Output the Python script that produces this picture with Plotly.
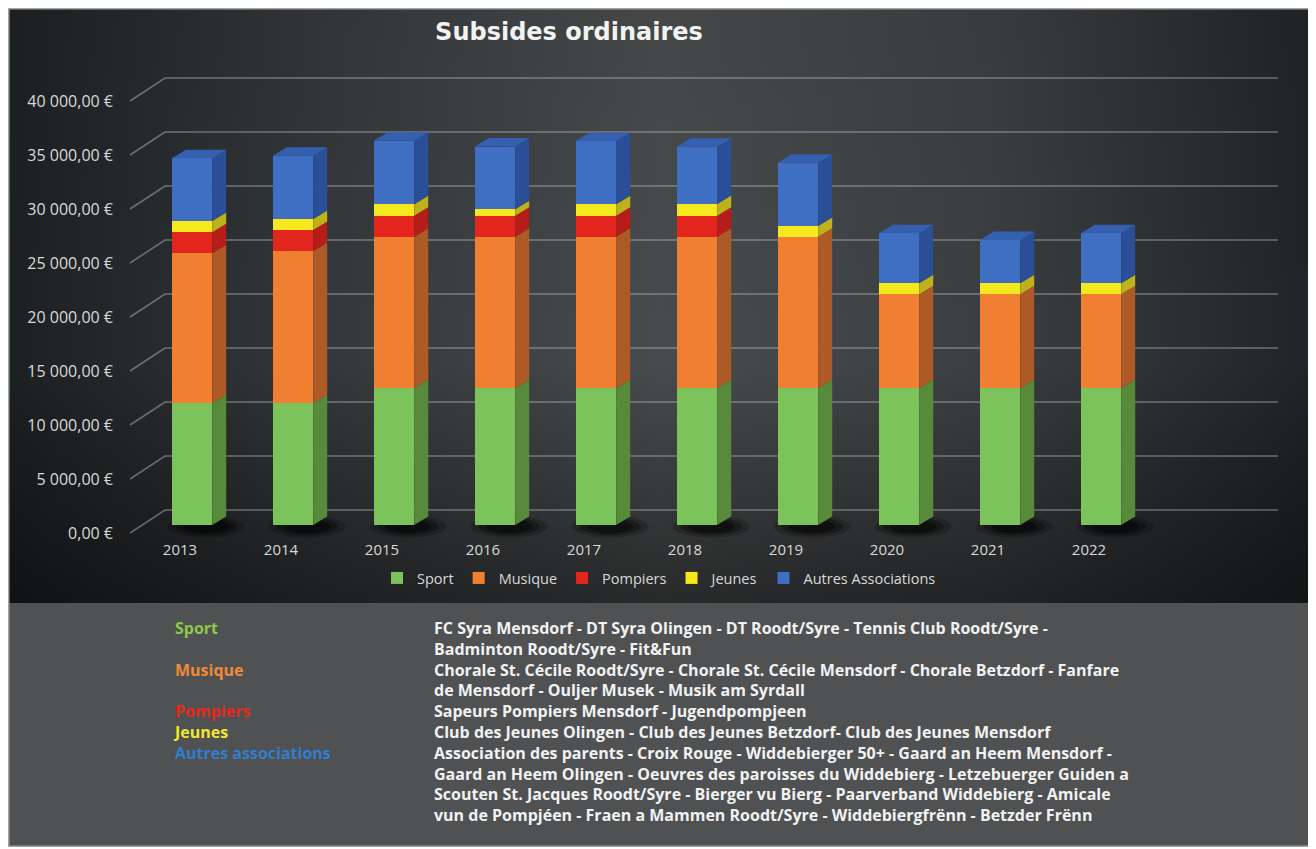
import base64
import plotly.graph_objects as go

# ---------------- data ----------------
years = ["2013", "2014", "2015", "2016", "2017", "2018", "2019", "2020", "2021", "2022"]
sport = [11270, 11270, 12660, 12660, 12660, 12660, 12660, 12660, 12660, 12660]
musique = [13890, 14100, 14040, 14040, 14040, 14040, 14040, 8700, 8700, 8700]
pompiers = [1940, 1945, 1945, 1945, 1945, 1945, 0, 0, 0, 0]
jeunes = [1050, 1020, 1055, 590, 1055, 1080, 990, 1020, 1020, 1020]
autres = [5800, 5860, 5890, 5800, 5860, 5300, 5860, 4630, 4010, 4630]

series_names = ["Sport", "Musique", "Pompiers", "Jeunes", "Autres Associations"]
tick_vals = [0, 5000, 10000, 15000, 20000, 25000, 30000, 35000, 40000]
tick_text = ["0,00 €", "5 000,00 €", "10 000,00 €", "15 000,00 €", "20 000,00 €",
             "25 000,00 €", "30 000,00 €", "35 000,00 €", "40 000,00 €"]
title_text = "Subsides ordinaires"

group_labels = ["Sport", "Musique", "Pompiers", "Jeunes", "Autres associations"]
group_lines = [
    ["FC Syra Mensdorf - DT Syra Olingen - DT Roodt/Syre - Tennis Club Roodt/Syre -",
     "Badminton Roodt/Syre - Fit&Fun"],
    ["Chorale St. Cécile Roodt/Syre - Chorale St. Cécile Mensdorf - Chorale Betzdorf - Fanfare",
     "de Mensdorf - Ouljer Musek - Musik am Syrdall"],
    ["Sapeurs Pompiers Mensdorf - Jugendpompjeen"],
    ["Club des Jeunes Olingen - Club des Jeunes Betzdorf- Club des Jeunes Mensdorf"],
    ["Association des parents - Croix Rouge - Widdebierger 50+ - Gaard an Heem Mensdorf -",
     "Gaard an Heem Olingen - Oeuvres des paroisses du Widdebierg - Letzebuerger Guiden a",
     "Scouten St. Jacques Roodt/Syre - Bierger vu Bierg - Paarverband Widdebierg - Amicale",
     "vun de Pompjéen - Fraen a Mammen Roodt/Syre - Widdebiergfrënn - Betzder Frënn"],
]

# ---------------- styling ----------------
front_colors = ["#7dc35b", "#f07f32", "#e2261d", "#f5e81c", "#3f6fc2"]
side_colors = ["#578a3a", "#ad5a27", "#b71d18", "#bdb21a", "#2a4f98"]
top_color = "#3560b0"
label_colors = ["#8cc84b", "#f08a3c", "#e8281e", "#f0e830", "#2f7fd0"]

OFF = 8                      # page body margin of the html page
REF_W, REF_H = 1316, 849
W, H = REF_W - OFF, REF_H - OFF
XL, XR = 120, 1290           # plot area bounds (reference pixels)
YT, YB = 50, 540
X0PX, XSTEP = 192, 101       # first category centre, category spacing (px)
Y0PX = 525                   # pixel of value 0 on bar front plane
SCALE = 54 / 5000            # px per value unit
BAR_W = 0.4
DX = 14 / XSTEP              # 3D depth, x (data units)
DY = 8.5 / SCALE             # 3D depth, y (data units)

xrange = [(XL - X0PX) / XSTEP, (XR - X0PX) / XSTEP]
yrange = [-(YB - Y0PX) / SCALE, (Y0PX - YT) / SCALE]


def px_x(px):
    return (px - XL) / (XR - XL)


def px_y(py):
    return (YB - py) / (YB - YT)


xs = list(range(len(years)))
series = [sport, musique, pompiers, jeunes, autres]

fig = go.Figure()

# front faces (bars)
for name, vals, col in zip(series_names, series, front_colors):
    fig.add_trace(go.Bar(x=xs, y=vals, name=name, width=BAR_W,
                         marker=dict(color=col, line=dict(width=0))))

# side faces (3D look) computed from the stacked values
cum = [0] * len(years)
for k, (vals, scol) in enumerate(zip(series, side_colors)):
    px_, py_ = [], []
    for i, v in enumerate(vals):
        b, t = cum[i], cum[i] + v
        if v > 0:
            xr = i + BAR_W / 2
            px_ += [xr, xr + DX, xr + DX, xr, xr, None]
            py_ += [b, b + DY, t + DY, t, b, None]
        cum[i] = t
    fig.add_trace(go.Scatter(x=px_, y=py_, mode="lines", fill="toself",
                             fillcolor=scol, line=dict(width=0, color=scol),
                             showlegend=False, hoverinfo="skip"))

# top faces
tx, ty = [], []
for i in xs:
    T = cum[i]
    xl, xr = i - BAR_W / 2, i + BAR_W / 2
    tx += [xl, xl + DX, xr + DX, xr, xl, None]
    ty += [T, T + DY, T + DY, T, T, None]
fig.add_trace(go.Scatter(x=tx, y=ty, mode="lines", fill="toself",
                         fillcolor=top_color, line=dict(width=0, color=top_color),
                         showlegend=False, hoverinfo="skip"))

shapes = []
# gridlines on "back wall" with diagonal to the front
xf, xb, xe = (130 - X0PX) / XSTEP, (165 - X0PX) / XSTEP, (1278 - X0PX) / XSTEP
for v in tick_vals:
    yf = v - 8 / SCALE
    yb = v + 15 / SCALE
    shapes.append(dict(type="path", xref="x", yref="y", layer="below",
                       path=f"M {xf},{yf} L {xb},{yb} L {xe},{yb}",
                       line=dict(color="rgba(200,200,200,0.45)", width=1.5)))
# soft shadows under bars
for i in xs:
    for sc, op in [(1.0, 0.2), (0.8, 0.3), (0.6, 0.4)]:
        cx, cy = i + 0.14, -1.5 / SCALE
        rx, ry = 0.38 * sc, 11 / SCALE * sc
        shapes.append(dict(type="circle", xref="x", yref="y", layer="below",
                           x0=cx - rx, x1=cx + rx, y0=cy - ry, y1=cy + ry,
                           fillcolor=f"rgba(0,0,0,{op})", line=dict(width=0)))

# background (gradient) as svg image
BG_X0, BG_X1, BG_Y0, BG_Y1, SPLIT = OFF, 1313, OFF, 847, 603
bw, bh = BG_X1 - BG_X0, BG_Y1 - BG_Y0
sh = SPLIT - BG_Y0
svg = f'''<svg xmlns="http://www.w3.org/2000/svg" width="{bw}" height="{bh}" viewBox="0 0 {bw} {bh}" preserveAspectRatio="none">
<defs>
<linearGradient id="h" x1="0" y1="0" x2="1" y2="0">
<stop offset="0" stop-color="#1d2022"/>
<stop offset="0.25" stop-color="#35383b"/>
<stop offset="0.5" stop-color="#484b4c"/>
<stop offset="0.75" stop-color="#3c3f41"/>
<stop offset="1" stop-color="#202427"/>
</linearGradient>
<linearGradient id="v" x1="0" y1="0" x2="0" y2="1">
<stop offset="0" stop-color="#000" stop-opacity="0.05"/>
<stop offset="0.6" stop-color="#000" stop-opacity="0"/>
<stop offset="1" stop-color="#000" stop-opacity="0.45"/>
</linearGradient>
</defs>
<rect x="0" y="0" width="{bw}" height="{sh}" fill="url(#h)"/>
<rect x="0" y="0" width="{bw}" height="{sh}" fill="url(#v)"/>
<rect x="0" y="{sh}" width="{bw}" height="{bh - sh}" fill="#4f5152"/>
<rect x="0.75" y="0.75" width="{bw - 1.5}" height="{bh - 1.5}" fill="none" stroke="#a3a3a3" stroke-width="1.5"/>
</svg>'''
src = "data:image/svg+xml;base64," + base64.b64encode(svg.encode()).decode()

images = [dict(source=src, xref="paper", yref="paper", x=px_x(BG_X0), y=px_y(BG_Y0),
               sizex=bw / (XR - XL), sizey=bh / (YB - YT),
               xanchor="left", yanchor="top", sizing="stretch", layer="below")]

# bottom text block: one multi-line text for each column
TXT_SIZE = 16
left_rows, right_rows = [], []
for lab, lines, col in zip(group_labels, group_lines, label_colors):
    for j, ln in enumerate(lines):
        left_rows.append(f"<span style='color:{col}'>{lab}</span>" if j == 0 else "\u00a0")
        right_rows.append(ln)
TXT_TOP = 615   # reference pixel of the first text row's top
annotations = [
    dict(text="<b>" + "<br>".join(left_rows) + "</b>", x=px_x(171), y=px_y(TXT_TOP),
         xref="paper", yref="paper", xanchor="left", yanchor="top", align="left",
         showarrow=False, font=dict(size=TXT_SIZE, color="#f2f2f2", family="Open Sans")),
    dict(text="<b>" + "<br>".join(right_rows) + "</b>", x=px_x(432), y=px_y(TXT_TOP),
         xref="paper", yref="paper", xanchor="left", yanchor="top", align="left",
         showarrow=False, font=dict(size=TXT_SIZE, color="#f2f2f2", family="Open Sans")),
]

fig.update_layout(
    width=W, height=H,
    margin=dict(l=XL - OFF, r=W - (XR - OFF), t=YT - OFF, b=H - (YB - OFF), pad=0),
    paper_bgcolor="#ffffff", plot_bgcolor="rgba(0,0,0,0)",
    barmode="stack",
    showlegend=True,
    legend=dict(orientation="h", x=px_x(659), y=px_y(578), xanchor="center", yanchor="middle",
                font=dict(size=14.5, color="#d9d9d9", family="Open Sans"),
                bgcolor="rgba(0,0,0,0)", itemwidth=30, traceorder="normal"),
    title=dict(text=f"<b>{title_text}</b>", x=(569 - OFF) / W, y=1 - (32 - OFF) / H,
               xanchor="center", yanchor="middle",
               font=dict(size=24, color="#f2f2f2", family="DejaVu Sans")),
    xaxis=dict(range=xrange, tickmode="array", tickvals=xs, ticktext=years,
               showgrid=False, zeroline=False, showline=False, ticks="",
               tickfont=dict(size=15, color="#d9d9d9", family="Open Sans"),
               ticklabelshift=-12, ticklabelstandoff=-1),
    yaxis=dict(range=yrange, tickmode="array", tickvals=tick_vals, ticktext=tick_text,
               showgrid=False, zeroline=False, showline=False, ticks="",
               tickfont=dict(size=16, color="#d9d9d9", family="Open Sans"),
               ticklabelshift=8, ticklabelstandoff=6),
    shapes=shapes, images=images, annotations=annotations,
)

fig.write_html("out.html")
